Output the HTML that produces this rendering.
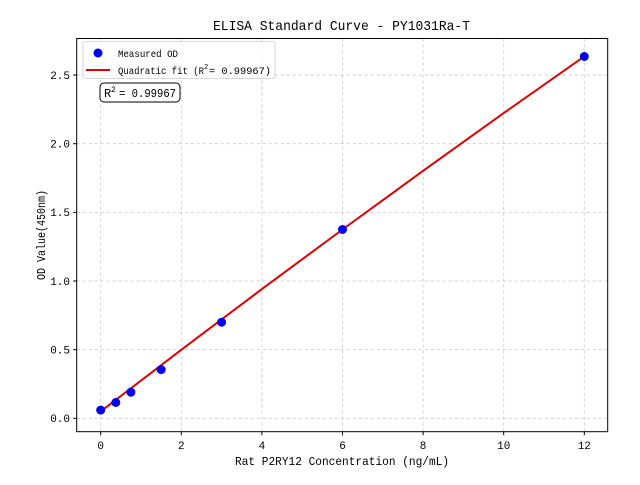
<!DOCTYPE html>
<html><head><meta charset="utf-8"><style>
body{margin:0;background:#fff}
text{font-family:"Liberation Mono","WenQuanYi Zen Hei",monospace;fill:#000}
</style></head><body>
<svg width="640" height="480" viewBox="0 0 640 480" xmlns="http://www.w3.org/2000/svg">
<rect width="640" height="480" fill="#fff"/>
<g stroke="#b0b0b0" stroke-width="0.8" stroke-dasharray="3,3" opacity="0.7">
<line x1="100.7" y1="38.5" x2="100.7" y2="431.7"/><line x1="181.3" y1="38.5" x2="181.3" y2="431.7"/>
<line x1="261.9" y1="38.5" x2="261.9" y2="431.7"/><line x1="342.5" y1="38.5" x2="342.5" y2="431.7"/>
<line x1="423.1" y1="38.5" x2="423.1" y2="431.7"/><line x1="503.7" y1="38.5" x2="503.7" y2="431.7"/>
<line x1="584.3" y1="38.5" x2="584.3" y2="431.7"/>
<line x1="76.7" y1="418.3" x2="607.7" y2="418.3"/><line x1="76.7" y1="349.65" x2="607.7" y2="349.65"/>
<line x1="76.7" y1="281" x2="607.7" y2="281"/><line x1="76.7" y1="212.35" x2="607.7" y2="212.35"/>
<line x1="76.7" y1="143.7" x2="607.7" y2="143.7"/><line x1="76.7" y1="75.05" x2="607.7" y2="75.05"/>
</g>
<polyline fill="none" stroke="#e00000" stroke-width="2" points="100.7,411.4 181.3,349.8 261.9,289.1 342.5,229.5 423.1,170.8 503.7,113.1 584.3,56.4"/>
<g fill="#0000ee">
<circle cx="100.7" cy="410.1" r="4.5"/><circle cx="115.8" cy="402.5" r="4.5"/>
<circle cx="130.9" cy="392.2" r="4.5"/><circle cx="161.15" cy="369.6" r="4.5"/>
<circle cx="221.6" cy="322.2" r="4.5"/><circle cx="342.5" cy="229.5" r="4.5"/>
<circle cx="584.3" cy="56.5" r="4.5"/>
</g>
<rect x="76.7" y="38.5" width="531" height="393.2" fill="none" stroke="#000" stroke-width="1"/>
<g stroke="#000" stroke-width="1">
<line x1="100.7" y1="431.7" x2="100.7" y2="435.2"/><line x1="181.3" y1="431.7" x2="181.3" y2="435.2"/>
<line x1="261.9" y1="431.7" x2="261.9" y2="435.2"/><line x1="342.5" y1="431.7" x2="342.5" y2="435.2"/>
<line x1="423.1" y1="431.7" x2="423.1" y2="435.2"/><line x1="503.7" y1="431.7" x2="503.7" y2="435.2"/>
<line x1="584.3" y1="431.7" x2="584.3" y2="435.2"/>
<line x1="73.2" y1="418.3" x2="76.7" y2="418.3"/><line x1="73.2" y1="349.65" x2="76.7" y2="349.65"/>
<line x1="73.2" y1="281" x2="76.7" y2="281"/><line x1="73.2" y1="212.35" x2="76.7" y2="212.35"/>
<line x1="73.2" y1="143.7" x2="76.7" y2="143.7"/><line x1="73.2" y1="75.05" x2="76.7" y2="75.05"/>
</g>
<g font-size="11" text-anchor="middle">
<text x="100.7" y="449">0</text><text x="181.3" y="449">2</text><text x="261.9" y="449">4</text>
<text x="342.5" y="449">6</text><text x="423.1" y="449">8</text><text x="503.7" y="449">10</text><text x="584.3" y="449">12</text>
</g>
<g font-size="11" text-anchor="end">
<text x="70" y="422">0.0</text><text x="70" y="353.5">0.5</text><text x="70" y="285">1.0</text>
<text x="70" y="216">1.5</text><text x="70" y="147.5">2.0</text><text x="70" y="79">2.5</text>
</g>
<text x="235" y="465" font-size="12" textLength="214" lengthAdjust="spacingAndGlyphs">Rat P2RY12 Concentration (ng/mL)</text>
<text x="0" y="0" font-size="12" textLength="90" lengthAdjust="spacingAndGlyphs" transform="translate(45,280) rotate(-90)">OD Value(450nm)</text>
<text x="213" y="30" font-size="14" textLength="257" lengthAdjust="spacingAndGlyphs">ELISA Standard Curve - PY1031Ra-T</text>
<rect x="83" y="41.5" width="192" height="37" rx="2" fill="#fff" fill-opacity="0.8" stroke="#ccc" stroke-width="0.8"/>
<circle cx="98" cy="53" r="4.5" fill="#0000ee"/>
<line x1="86" y1="70" x2="110" y2="70" stroke="#e00000" stroke-width="2"/>
<text x="118" y="57" font-size="10.5" textLength="60" lengthAdjust="spacingAndGlyphs">Measured OD</text>
<text x="118" y="74" font-size="10.5" textLength="86" lengthAdjust="spacingAndGlyphs">Quadratic fit (R</text>
<text x="204" y="69" font-size="7">2</text>
<text x="209" y="74" font-size="10.5" textLength="62" lengthAdjust="spacingAndGlyphs"> = 0.99967)</text>
<rect x="100" y="83" width="80" height="19" rx="4" fill="#fff" stroke="#000" stroke-width="1"/>
<text x="104" y="97" font-size="12">R</text>
<text x="111" y="92" font-size="8">2</text>
<text x="119" y="97" font-size="12" textLength="57" lengthAdjust="spacingAndGlyphs">= 0.99967</text>
</svg>
</body></html>
